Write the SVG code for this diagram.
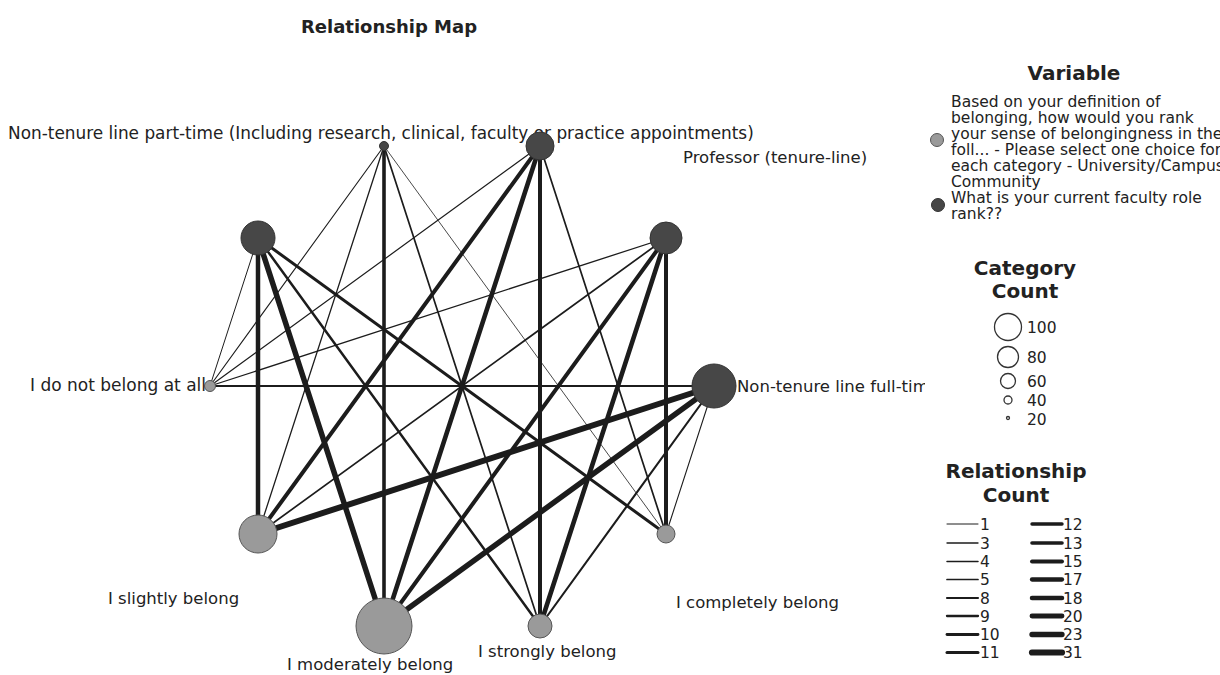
<svg xmlns="http://www.w3.org/2000/svg" width="1220" height="675" viewBox="0 0 1220 675">
<style>
text{font-family:"DejaVu Sans","Liberation Sans",sans-serif;fill:#222}
.lbl{font-size:16.5px}
.ttl{font-size:18px;font-weight:bold}
.lt{font-size:20px;font-weight:bold;text-anchor:middle}
.leg{font-size:15.5px}
.dark{fill:#474747;stroke:#333;stroke-width:1}
.light{fill:#9a9a9a;stroke:#555;stroke-width:1}
.edges line{stroke:#1c1c1c;stroke-linecap:round}
.rl line{stroke:#1c1c1c;stroke-linecap:round}
.cc{fill:none;stroke:#333;stroke-width:1.3}
</style>
<defs>
<clipPath id="clipA"><rect x="700" y="360" width="225" height="50"/></clipPath>
</defs>
<rect width="1220" height="675" fill="#fff"/>
<text class="ttl" x="389" y="33" text-anchor="middle">Relationship Map</text>

<g id="connectors" class="edges">
<line x1="258" y1="238" x2="210" y2="386" stroke-width="1"/>
<line x1="258" y1="238" x2="258" y2="534" stroke-width="4.5"/>
<line x1="258" y1="238" x2="384" y2="626" stroke-width="5.5"/>
<line x1="258" y1="238" x2="540" y2="626" stroke-width="2.5"/>
<line x1="258" y1="238" x2="666" y2="534" stroke-width="3"/>
<line x1="384" y1="146" x2="210" y2="386" stroke-width="1.1"/>
<line x1="384" y1="146" x2="258" y2="534" stroke-width="1.3"/>
<line x1="384" y1="146" x2="384" y2="626" stroke-width="3.6"/>
<line x1="384" y1="146" x2="540" y2="626" stroke-width="1.7"/>
<line x1="384" y1="146" x2="666" y2="534" stroke-width="0.8"/>
<line x1="540" y1="146" x2="210" y2="386" stroke-width="1.2"/>
<line x1="540" y1="146" x2="258" y2="534" stroke-width="4"/>
<line x1="540" y1="146" x2="384" y2="626" stroke-width="4.6"/>
<line x1="540" y1="146" x2="540" y2="626" stroke-width="4"/>
<line x1="540" y1="146" x2="666" y2="534" stroke-width="1.7"/>
<line x1="666" y1="238" x2="210" y2="386" stroke-width="1.3"/>
<line x1="666" y1="238" x2="258" y2="534" stroke-width="1.7"/>
<line x1="666" y1="238" x2="384" y2="626" stroke-width="4"/>
<line x1="666" y1="238" x2="540" y2="626" stroke-width="4.6"/>
<line x1="666" y1="238" x2="666" y2="534" stroke-width="4"/>
<line x1="714" y1="386" x2="210" y2="386" stroke-width="2.1"/>
<line x1="714" y1="386" x2="258" y2="534" stroke-width="6"/>
<line x1="714" y1="386" x2="384" y2="626" stroke-width="5.5"/>
<line x1="714" y1="386" x2="540" y2="626" stroke-width="2.1"/>
<line x1="714" y1="386" x2="666" y2="534" stroke-width="1.1"/>
</g>

<g id="node-ntl-full-time">
<circle class="dark" cx="714" cy="386" r="22"/>
<text class="lbl" x="737" y="392" clip-path="url(#clipA)">Non-tenure line full-time</text>
</g>
<g id="node-professor">
<circle class="dark" cx="666" cy="238" r="16"/>
<text class="lbl" x="683" y="163">Professor (tenure-line)</text>
</g>
<g id="node-ntl-part-time">
<text class="lbl" x="8" y="139" style="font-size:16.9px">Non-tenure line part-time (Including research, clinical, faculty or practice appointments)</text>
<circle class="dark" cx="384" cy="146" r="4.5"/>
</g>
<g id="node-role-3">
<circle class="dark" cx="540" cy="146" r="14"/>
</g>
<g id="node-role-5">
<circle class="dark" cx="258" cy="238" r="17"/>
</g>
<g id="node-not-at-all">
<text class="lbl" x="206" y="391" text-anchor="end" style="font-size:17px">I do not belong at all</text>
<circle class="light" cx="210" cy="386" r="5.5"/>
</g>
<g id="node-slightly">
<circle class="light" cx="258" cy="534" r="19"/>
<text class="lbl" x="108" y="604">I slightly belong</text>
</g>
<g id="node-moderately">
<circle class="light" cx="384" cy="626" r="28"/>
<text class="lbl" x="287" y="670">I moderately belong</text>
</g>
<g id="node-strongly">
<circle class="light" cx="540" cy="626" r="12"/>
<text class="lbl" x="478" y="657">I strongly belong</text>
</g>
<g id="node-completely">
<circle class="light" cx="666" cy="534" r="9"/>
<text class="lbl" x="676" y="608">I completely belong</text>
</g>

<g id="legend-variable">
<text class="lt" x="1074" y="80">Variable</text>
<circle class="light" cx="937" cy="140" r="6.5"/>
<circle class="dark" cx="938" cy="205" r="6.5"/>
<text class="leg" x="951" y="107">Based on your definition of</text>
<text class="leg" x="951" y="123">belonging, how would you rank</text>
<text class="leg" x="951" y="139">your sense of belongingness in the</text>
<text class="leg" x="951" y="155">foll... - Please select one choice for</text>
<text class="leg" x="951" y="171">each category - University/Campus</text>
<text class="leg" x="951" y="187">Community</text>
<text class="leg" x="951" y="203">What is your current faculty role</text>
<text class="leg" x="951" y="219">rank??</text>
</g>

<g id="legend-category">
<text class="lt" x="1025" y="275">Category</text>
<text class="lt" x="1025" y="298">Count</text>
<circle class="cc" cx="1008" cy="327" r="13.5"/>
<circle class="cc" cx="1008" cy="357" r="10.5"/>
<circle class="cc" cx="1008" cy="381" r="7.5"/>
<circle class="cc" cx="1008" cy="400" r="4"/>
<circle class="cc" cx="1008" cy="418" r="1.5"/>
<text class="leg" x="1027" y="333">100</text>
<text class="leg" x="1027" y="363">80</text>
<text class="leg" x="1027" y="387">60</text>
<text class="leg" x="1027" y="406">40</text>
<text class="leg" x="1027" y="425">20</text>
</g>

<g id="legend-relationship" class="rl">
<text class="lt" x="1016" y="478">Relationship</text>
<text class="lt" x="1016" y="502">Count</text>
<line x1="947" y1="524" x2="978" y2="524" stroke-width="1"/>
<line x1="947" y1="543" x2="978" y2="543" stroke-width="1.3"/>
<line x1="947" y1="561.5" x2="978" y2="561.5" stroke-width="1.5"/>
<line x1="947" y1="579.5" x2="978" y2="579.5" stroke-width="1.7"/>
<line x1="947" y1="598" x2="978" y2="598" stroke-width="2.1"/>
<line x1="947" y1="616" x2="978" y2="616" stroke-width="2.3"/>
<line x1="947" y1="634.5" x2="978" y2="634.5" stroke-width="2.8"/>
<line x1="947" y1="652.5" x2="978" y2="652.5" stroke-width="3"/>
<line x1="1032" y1="524" x2="1062" y2="524" stroke-width="3.4"/>
<line x1="1032" y1="543" x2="1062" y2="543" stroke-width="3.6"/>
<line x1="1032" y1="561.5" x2="1062" y2="561.5" stroke-width="3.9"/>
<line x1="1032" y1="579.5" x2="1062" y2="579.5" stroke-width="4.3"/>
<line x1="1032" y1="598" x2="1062" y2="598" stroke-width="4.5"/>
<line x1="1032" y1="616" x2="1062" y2="616" stroke-width="4.9"/>
<line x1="1032" y1="634.5" x2="1062" y2="634.5" stroke-width="5.3"/>
<line x1="1032" y1="652.5" x2="1062" y2="652.5" stroke-width="6.2"/>
<text class="leg" x="980" y="529.5">1</text>
<text class="leg" x="980" y="548.5">3</text>
<text class="leg" x="980" y="567">4</text>
<text class="leg" x="980" y="585">5</text>
<text class="leg" x="980" y="603.5">8</text>
<text class="leg" x="980" y="621.5">9</text>
<text class="leg" x="980" y="640">10</text>
<text class="leg" x="980" y="658">11</text>
<text class="leg" x="1063" y="529.5">12</text>
<text class="leg" x="1063" y="548.5">13</text>
<text class="leg" x="1063" y="567">15</text>
<text class="leg" x="1063" y="585">17</text>
<text class="leg" x="1063" y="603.5">18</text>
<text class="leg" x="1063" y="621.5">20</text>
<text class="leg" x="1063" y="640">23</text>
<text class="leg" x="1063" y="658">31</text>
</g>
</svg>
